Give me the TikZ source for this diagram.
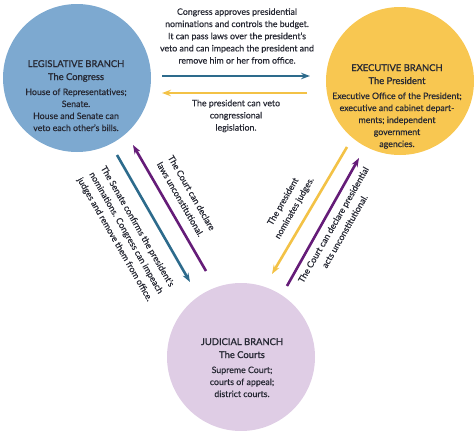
\documentclass[tikz,border=0pt]{standalone}
\usepackage{fontspec}
\setmainfont{Lato}[FakeBold=0.35]
\newfontfamily\heavyfont{Lato}[FakeBold=1.1]
\usetikzlibrary{arrows.meta}
\definecolor{GovBlue}{HTML}{7DA9D0}
\definecolor{GovGold}{HTML}{F8C751}
\definecolor{GovLilac}{HTML}{DFCDE5}
\definecolor{GovArrowBlue}{HTML}{2D6B8C}
\definecolor{GovArrowGold}{HTML}{F3C246}
\definecolor{GovArrowPurple}{HTML}{651C78}
\definecolor{GovText}{HTML}{262833}
\newcommand{\branchtitle}[1]{{\heavyfont\fontsize{9.4}{12}\selectfont #1}}
\newcommand{\branchsub}[1]{{\heavyfont\fontsize{9.4}{12}\selectfont #1}}
\tikzset{
  branch/.style={circle,minimum size=148pt,inner sep=0pt},
  branchtext/.style={anchor=north,align=center,inner sep=0pt,text=GovText,font=\fontsize{8.8}{12}\selectfont},
  note/.style={align=center,inner sep=0pt,text=GovText,font=\fontsize{8.8}{12.2}\selectfont},
  slantnote/.style={note,font=\fontsize{8.8}{13}\selectfont},
  link/.style={line width=2.6pt,-{Stealth[length=9pt,width=6.5pt]}}
}

\begin{document}
\begin{tikzpicture}[x=1pt,y=-1pt]
\path[use as bounding box] (0,0) rectangle (474,431);
\node[branch,fill=GovBlue] (leg) at (77,78) {};
\node[branch,fill=GovGold] (exe) at (400,81) {};
\node[branch,fill=GovLilac] (jud) at (241,357) {};
\node[branchtext] (legtext) at (76,60) {\branchtitle{LEGISLATIVE BRANCH}\\[1pt] \branchsub{The Congress}\\[3pt] House of Representatives;\\ Senate.\\ House and Senate can\\ veto each other's bills.};
\node[branchtext] (exetext) at (397,64) {\branchtitle{EXECUTIVE BRANCH}\\[1pt] \branchsub{The President}\\[3pt] Executive Office of the President;\\ executive and cabinet depart-\\ ments; independent\\ government\\ agencies.};
\node[branchtext] (judtext) at (242,338) {\branchtitle{JUDICIAL BRANCH}\\[1pt] \branchsub{The Courts}\\[3pt] Supreme Court;\\ courts of appeal;\\ district courts.};
\coordinate (legE) at (162,76);
\coordinate (exeW) at (310,76);
\coordinate (exeWlow) at (307,93);
\coordinate (legElow) at (162,93);
\coordinate (legS) at (117,155);
\coordinate (judNW) at (190,282);
\coordinate (judNWin) at (206,271);
\coordinate (legSin) at (133,145);
\coordinate (exeS) at (347,147);
\coordinate (judNE) at (272,274);
\coordinate (judNEin) at (287,286);
\coordinate (exeSin) at (359,158);
\draw[link,GovArrowBlue] (legE) -- (exeW);
\draw[link,GovArrowGold] (exeWlow) -- (legElow);
\draw[link,GovArrowBlue] (legS) -- (judNW);
\draw[link,GovArrowPurple] (judNWin) -- (legSin);
\draw[link,GovArrowGold] (exeS) -- (judNE);
\draw[link,GovArrowPurple] (judNEin) -- (exeSin);
\node[note] (congnote) at (237,36) {Congress approves presidential\\ nominations and controls the budget.\\ It can pass laws over the president's\\ veto and can impeach the president and\\ remove him or her from office.};
\node[note] (vetonote) at (236,116) {The president can veto\\ congressional\\ legislation.};
\node[slantnote,rotate=-60] (lawsnote) at (186,196) {The Court can declare\\ laws unconstitutional.};
\node[slantnote,rotate=-60] (senatenote) at (126,233) {The Senate confirms the president's\\ nominations. Congress can impeach\\ judges and remove them from office.};
\node[slantnote,rotate=60] (nomnote) at (289,205) {The president\\ nominates judges.};
\node[slantnote,rotate=60] (actsnote) at (339,228) {The Court can declare presidential\\ acts unconstitutional.};
\end{tikzpicture}
\end{document}
